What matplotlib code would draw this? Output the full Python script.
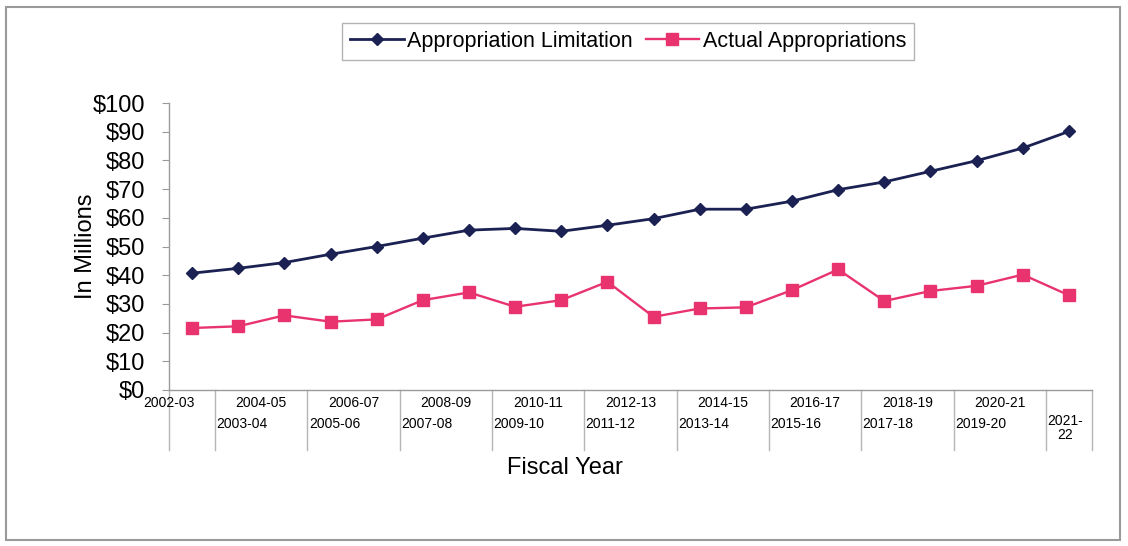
import matplotlib
matplotlib.use("Agg")
import matplotlib.pyplot as plt
from matplotlib.patches import Rectangle

plt.rcParams['font.family'] = ['Liberation Sans', 'DejaVu Sans']

years = ['2002-03', '2003-04', '2004-05', '2005-06', '2006-07', '2007-08', '2008-09',
         '2009-10', '2010-11', '2011-12', '2012-13', '2013-14', '2014-15', '2015-16',
         '2016-17', '2017-18', '2018-19', '2019-20', '2020-21', '2021-\n22']
limitation = [40.7, 42.4, 44.4, 47.3, 50.0, 52.9, 55.7, 56.3, 55.3, 57.4,
              59.7, 63.0, 63.0, 65.8, 69.8, 72.5, 76.2, 79.9, 84.3, 90.1]
actual = [21.6, 22.2, 26.0, 23.8, 24.6, 31.3, 34.0, 29.0, 31.3, 37.7,
          25.5, 28.4, 28.8, 34.8, 42.0, 31.0, 34.5, 36.3, 40.2, 33.0]
yticks = [0, 10, 20, 30, 40, 50, 60, 70, 80, 90, 100]

navy = '#1b2152'
pink = '#e8336e'
axis_gray = '#9a9a9a'

fig = plt.figure(figsize=(11.28, 5.46), dpi=100)
ax = fig.add_axes([169 / 1128, 1 - 390 / 546, (1092 - 169) / 1128, 287 / 546])

x = list(range(len(years)))
ax.plot(x, limitation, color=navy, lw=2.0, marker='D', ms=6, mfc=navy, mec=navy,
        label='Appropriation Limitation')
ax.plot(x, actual, color=pink, lw=1.7, marker='s', ms=8.5, mfc=pink, mec=pink,
        label='Actual Appropriations')

ax.set_xlim(-0.5, len(years) - 0.5)
ax.set_ylim(0, 100)
ax.set_yticks(yticks)
ax.set_yticklabels(['$%d' % v for v in yticks], fontsize=17)
ax.tick_params(axis='y', length=5, color=axis_gray, pad=12)
ax.set_xticks([])

for s in ['top', 'right']:
    ax.spines[s].set_visible(False)
for s in ['left', 'bottom']:
    ax.spines[s].set_color(axis_gray)
    ax.spines[s].set_linewidth(1.0)

# staggered category labels, like the excel axis
tr = ax.get_xaxis_transform()
for i, lab in enumerate(years):
    if i % 2 == 0:
        ax.text(i - 0.5, -0.045, lab, transform=tr, ha='center', va='center',
                fontsize=10, clip_on=False)
    elif '\n' in lab:
        ax.text(i - 0.47, -0.085, lab, transform=tr, ha='left', va='top',
                fontsize=10, clip_on=False, linespacing=1.0, multialignment='center')
    else:
        ax.text(i - 0.47, -0.118, lab, transform=tr, ha='left', va='center',
                fontsize=10, clip_on=False)

# long separator ticks below the axis
seps = [-0.5] + [i + 0.5 for i in range(0, len(years) - 1, 2)] + [len(years) - 0.5]
for sx in seps:
    ax.plot([sx, sx], [0, -0.21], transform=tr, color='#b5b5b5', lw=1.0, clip_on=False)

ax.set_ylabel('In Millions', fontsize=17)
ax.yaxis.set_label_coords(-0.078, 0.5)
fig.text(565 / 1128, 1 - 468 / 546, 'Fiscal Year', fontsize=17, ha='center', va='center')

leg = fig.legend(loc='center', bbox_to_anchor=(628 / 1128, 1 - 41.5 / 546), ncol=2,
                 fontsize=15.5, frameon=True, fancybox=False, handlelength=2.5,
                 handletextpad=0.15, columnspacing=0.6, borderpad=0.35,
                 borderaxespad=0)
leg.get_frame().set_edgecolor('#a0a0a0')
leg.get_frame().set_linewidth(1.0)

# outer chart frame
fig.patches.append(Rectangle((6 / 1128, 1 - 540 / 546), 1114 / 1128, 533 / 546,
                             transform=fig.transFigure, fill=False,
                             edgecolor='#9a9a9a', lw=1.5))

fig.savefig('out.png', dpi=100)
